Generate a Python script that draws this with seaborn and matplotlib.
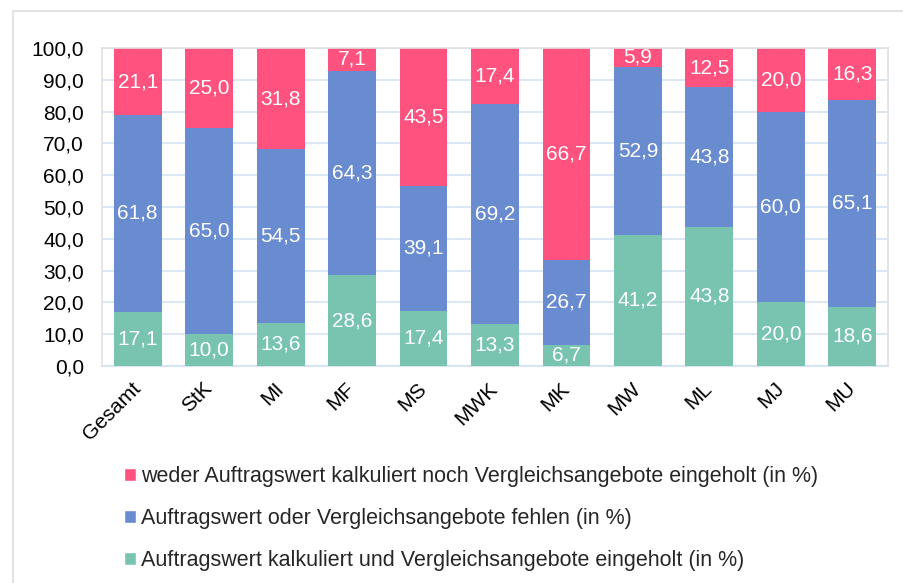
import matplotlib
matplotlib.use("Agg")
import matplotlib.pyplot as plt
import seaborn as sns
import pandas as pd
import numpy as np
from matplotlib.patches import Rectangle, Patch

categories = ["Gesamt", "StK", "MI", "MF", "MS", "MWK", "MK", "MW", "ML", "MJ", "MU"]
green_vals = [17.1, 10.0, 13.6, 28.6, 17.4, 13.3, 6.7, 41.2, 43.8, 20.0, 18.6]
blue_vals = [61.8, 65.0, 54.5, 64.3, 39.1, 69.2, 26.7, 52.9, 43.8, 60.0, 65.1]
red_vals = [21.1, 25.0, 31.8, 7.1, 43.5, 17.4, 66.7, 5.9, 12.5, 20.0, 16.3]
series_labels = [
    "weder Auftragswert kalkuliert noch Vergleichsangebote eingeholt (in %)",
    "Auftragswert oder Vergleichsangebote fehlen (in %)",
    "Auftragswert kalkuliert und Vergleichsangebote eingeholt (in %)",
]
yticks = [0, 10, 20, 30, 40, 50, 60, 70, 80, 90, 100]

RED = "#FF527F"
BLUE = "#698BD0"
GREEN = "#78C4B1"
FS = 15

sns.set_theme(style="white")
plt.rcParams["font.family"] = ["Liberation Sans", "DejaVu Sans"]

fig = plt.figure(figsize=(9.04, 5.83), dpi=100)
ax = fig.add_axes([102 / 904, 1 - 366 / 583, (888 - 102) / 904, (366 - 48) / 583])

# outer frame
fig.patches.append(Rectangle((13 / 904, -0.1), 1.2, 1 - 11 / 583 + 0.1, transform=fig.transFigure,
                             fill=False, edgecolor="#E3E3E3", linewidth=1.5, zorder=0))

df = pd.DataFrame({
    "cat": categories,
    "green": green_vals,
    "blue": blue_vals,
    "red": red_vals,
})
df["gb"] = df["green"] + df["blue"]
df["total"] = df["gb"] + df["red"]

width = 0.67
sns.barplot(data=df, x="cat", y="total", color=RED, width=width, saturation=1, ax=ax, zorder=2,
            edgecolor="none")
sns.barplot(data=df, x="cat", y="gb", color=BLUE, width=width, saturation=1, ax=ax, zorder=3,
            edgecolor="none")
sns.barplot(data=df, x="cat", y="green", color=GREEN, width=width, saturation=1, ax=ax, zorder=4,
            edgecolor="none")

def fmt(v):
    return f"{v:.1f}".replace(".", ",")

for i in range(len(categories)):
    g, b, r = green_vals[i], blue_vals[i], red_vals[i]
    ax.text(i, g / 2, fmt(g), ha="center", va="center", color="white", fontsize=FS, zorder=6)
    ax.text(i, g + b / 2, fmt(b), ha="center", va="center", color="white", fontsize=FS, zorder=6)
    ax.text(i, g + b + r / 2, fmt(r), ha="center", va="center", color="white", fontsize=FS, zorder=6)

ax.set_xlim(-0.5, len(categories) - 0.5)
ax.set_ylim(0, 100)
ax.set_yticks(yticks)
ax.set_yticklabels([fmt(v) for v in yticks], fontsize=FS, color="#000000")
ax.set_xticks(range(len(categories)))
ax.set_xticklabels(categories, rotation=45, ha="right", va="center", rotation_mode="anchor",
                   fontsize=FS, color="#000000")
ax.tick_params(axis="x", pad=14, length=0)
ax.tick_params(axis="y", pad=13, length=0)
ax.set_xlabel("")
ax.set_ylabel("")
ax.yaxis.grid(True, color="#D6E3F3", linewidth=1.2, zorder=0)
ax.set_axisbelow(True)
for side in ["top", "right", "left"]:
    ax.spines[side].set_color("#E0E0E0")
    ax.spines[side].set_linewidth(1.2)
ax.spines["bottom"].set_color("#D6E3F3")
ax.spines["bottom"].set_linewidth(1.5)

handles = [Patch(facecolor=RED), Patch(facecolor=BLUE), Patch(facecolor=GREEN)]
fig.legend(handles, series_labels, loc="upper left", bbox_to_anchor=(124 / 904, 1 - 466 / 583),
           frameon=False, fontsize=15.5, handlelength=0.55, handleheight=0.55, handletextpad=0.25,
           labelspacing=0.97, borderaxespad=0, borderpad=0)

fig.savefig("out.png", dpi=100)
